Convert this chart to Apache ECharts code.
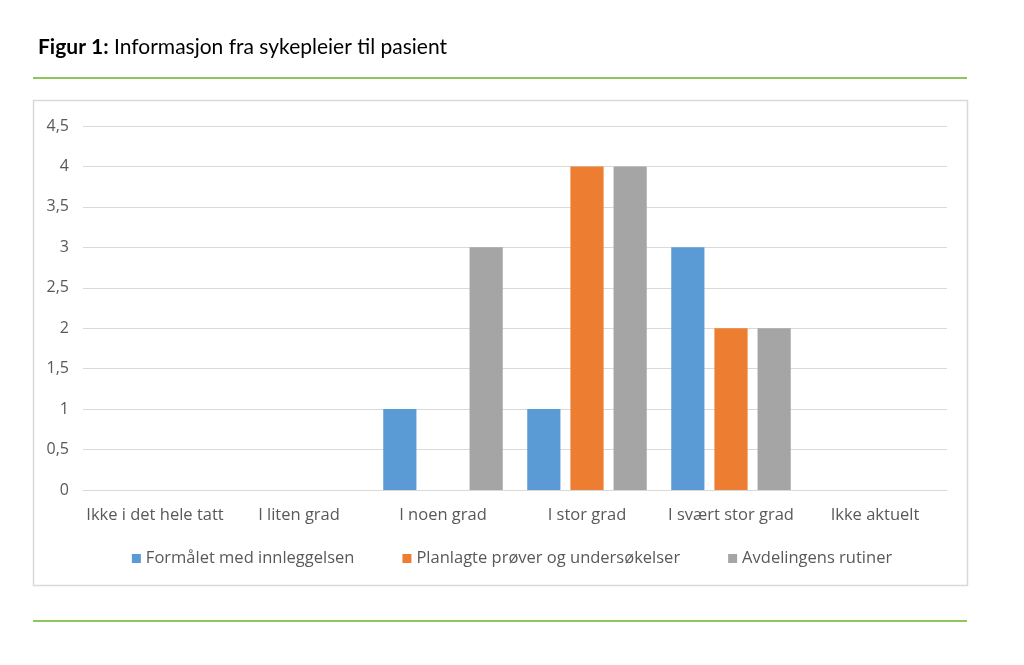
<!DOCTYPE html>
<html>
<head>
<meta charset="utf-8">
<script src="https://cdn.jsdelivr.net/npm/echarts@6/dist/echarts.min.js"></script>
<style>html,body{margin:0;padding:0;background:#fff;}#c{width:1024px;height:665px;}</style>
</head>
<body>
<div id="c"></div>
<script>
var categories = ['Ikke i det hele tatt', 'I liten grad', 'I noen grad', 'I stor grad', 'I svært stor grad', 'Ikke aktuelt'];
var seriesNames = ['Formålet med innleggelsen', 'Planlagte prøver og undersøkelser', 'Avdelingens rutiner'];
var formaalet = [0, 0, 1, 1, 3, 0];
var planlagte = [0, 0, 0, 4, 2, 0];
var rutiner = [0, 0, 3, 4, 2, 0];
var colors = ['#5B9BD5', '#ED7D31', '#A5A5A5'];

var chart = echarts.init(document.getElementById('c'));
var titleFont = 'Lato, "Open Sans", sans-serif';
var font = '"Open Sans", Lato, sans-serif';
chart.setOption({
  animation: false,
  color: colors,
  title: {
    text: '{b|Figur 1:} Informasjon fra sykepleier til pasient',
    left: 33, top: 32,
    textStyle: {
      fontFamily: titleFont, fontSize: 21, fontWeight: 'normal', color: '#000',
      rich: { b: { fontFamily: titleFont, fontSize: 21, fontWeight: 'bold', color: '#000' } }
    }
  },
  graphic: [
    { type: 'line', shape: { x1: 33, y1: 78, x2: 967, y2: 78 }, style: { stroke: '#8DC75A', lineWidth: 2 } },
    { type: 'line', shape: { x1: 33, y1: 621, x2: 967, y2: 621 }, style: { stroke: '#8DC75A', lineWidth: 2 } },
    { type: 'rect', shape: { x: 33.5, y: 100.5, width: 934, height: 485 }, style: { fill: 'none', stroke: '#D9D9D9', lineWidth: 1.5 }, z: -1 }
  ],
  legend: {
    bottom: 93, left: 'center',
    itemWidth: 9, itemHeight: 9, itemGap: 48,
    icon: 'rect',
    textStyle: { fontFamily: font, fontSize: 16.5, color: '#595959' },
    data: seriesNames
  },
  grid: { left: 83, right: 77, top: 126, bottom: 175, containLabel: false },
  xAxis: {
    type: 'category', data: categories,
    axisLine: { lineStyle: { color: '#D9D9D9' } },
    axisTick: { show: false },
    axisLabel: { fontFamily: font, fontSize: 16.5, color: '#595959', margin: 17, interval: 0 }
  },
  yAxis: {
    type: 'value', min: 0, max: 4.5, interval: 0.5,
    axisLine: { show: false }, axisTick: { show: false },
    splitLine: { lineStyle: { color: '#D9D9D9' } },
    axisLabel: { fontFamily: font, fontSize: 16, color: '#595959', margin: 14,
      formatter: function (v) { return String(v).replace('.', ','); } }
  },
  series: [
    { name: seriesNames[0], type: 'bar', data: formaalet, barGap: '30%', barCategoryGap: '17%' },
    { name: seriesNames[1], type: 'bar', data: planlagte, barGap: '30%', barCategoryGap: '17%' },
    { name: seriesNames[2], type: 'bar', data: rutiner, barGap: '30%', barCategoryGap: '17%' }
  ]
});
</script>
</body>
</html>
